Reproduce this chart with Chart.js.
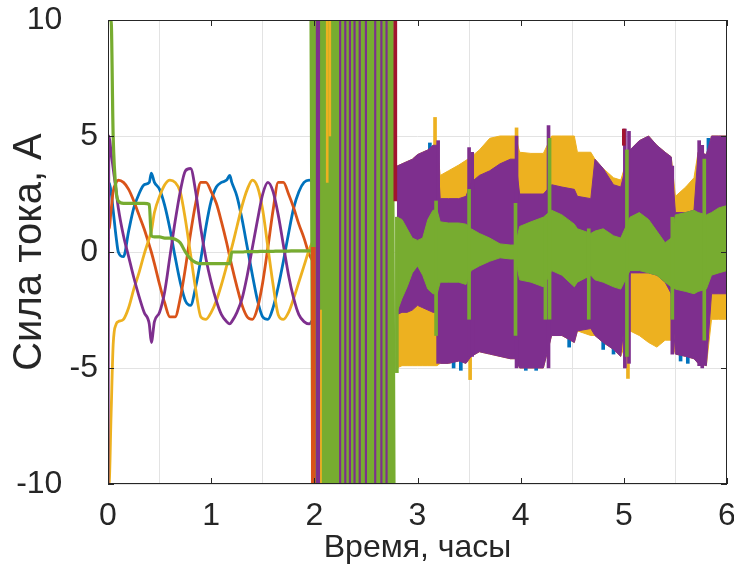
<!DOCTYPE html>
<html>
<head>
<meta charset="utf-8">
<script src="https://cdn.jsdelivr.net/npm/chart.js@4.4.1/dist/chart.umd.min.js"></script>
<style>
  html, body { margin: 0; padding: 0; background: #fff; }
</style>
</head>
<body>
<canvas id="currentChart" width="734" height="572"></canvas>
<script>
// MATLAB default colour order
const BLUE = '#0072BD', ORANGE = '#D95319', YELLOW = '#EDB120',
      PURPLE = '#7E2F8E', GREEN = '#77AC30', DARKRED = '#A2142F';

const xTicks = [0, 1, 2, 3, 4, 5, 6];
const yTicks = [-10, -5, 0, 5, 10];

// --- 0..2 h : smooth part of the signals ---
const smoothT = [0, 0.01, 0.03, 0.05, 0.08, 0.1, 0.15, 0.2, 0.25, 0.3, 0.35, 0.4,
  0.42, 0.45, 0.5, 0.55, 0.6, 0.65, 0.7, 0.75, 0.8, 0.85, 0.9, 0.95,
  1.0, 1.05, 1.1, 1.15, 1.18, 1.2, 1.25, 1.3, 1.35, 1.4, 1.45, 1.5,
  1.55, 1.6, 1.65, 1.7, 1.75, 1.8, 1.85, 1.9, 1.95, 2.0];
const blueV = [3.0, 3.0, 2.6, 1.8, 0.6, 0.0, -0.2, 0.9, 1.9, 2.5, 2.9, 3.0,
  3.4, 3.0, 2.7, 2.0, 1.0, -0.2, -1.3, -2.1, -2.3, -1.5, -0.3, 1.1,
  2.2, 2.8, 3.0, 3.1, 3.3, 3.0, 2.4, 1.4, 0.2, -1.0, -2.1, -2.8,
  -2.9, -2.4, -1.5, -0.4, 0.8, 1.9, 2.6, 3.0, 3.1, 3.0];
const orangeV = [1.0, 1.0, 1.8, 2.6, 3.0, 3.1, 3.0, 2.7, 2.2, 1.6, 1.0, 0.3,
  0.0, -0.5, -1.4, -2.2, -2.8, -2.8, -2.0, -0.7, 0.8, 2.1, 3.0, 3.0,
  2.6, 2.1, 1.3, 0.4, -0.2, -0.6, -1.5, -2.3, -2.8, -2.9, -2.4, -1.3,
  0.2, 1.8, 3.0, 3.0, 2.5, 1.9, 1.2, 0.6, -0.1, -0.5];
const yellowV = [-10, -10, -7, -4, -3.1, -3.0, -2.9, -2.4, -1.6, -0.9, -0.1, 0.6,
  0.9, 1.7, 2.4, 2.9, 3.1, 3.0, 2.6, 1.4, -0.1, -1.6, -2.8, -2.9,
  -2.6, -2.1, -1.4, -0.6, -0.1, 0.2, 1.1, 2.0, 2.7, 3.1, 2.8, 1.8,
  0.2, -1.4, -2.7, -2.9, -2.6, -2.0, -1.3, -0.6, 0.1, 0.6];
const purpleV = [-10, 5, 4.3, 3.6, 2.6, 1.9, 0.7, -0.2, -1.1, -1.9, -2.6, -3.1,
  -3.9, -3.0, -2.6, -1.7, -0.2, 1.3, 2.6, 3.5, 3.6, 2.6, 1.0, -0.3,
  -1.3, -2.1, -2.7, -3.0, -3.1, -3.0, -2.6, -2.0, -1.0, 0.2, 1.4, 2.5,
  3.0, 2.6, 1.6, 0.3, -1.0, -2.0, -2.7, -3.0, -3.1, -2.8];
const greenV = [10, 10, 10, 5, 2.6, 2.2, 2.1, 2.1, 2.1, 2.1, 2.1, 2.05,
  0.7, 0.65, 0.65, 0.6, 0.6, 0.55, 0.4, 0.0, -0.3, -0.45, -0.5, -0.5,
  -0.5, -0.5, -0.5, -0.5, -0.5, 0.0, 0.0, 0.0, 0.02, 0.02, 0.02, 0.03,
  0.03, 0.03, 0.04, 0.04, 0.04, 0.05, 0.05, 0.05, 0.05, 0.05];

// --- 2..2.8 h : saturated switching ---
const chaosT = [1.98, 2.00, 2.02, 2.04, 2.06, 2.08, 2.10, 2.12, 2.14, 2.16,
  2.18, 2.20, 2.22, 2.24, 2.26, 2.28, 2.30, 2.32, 2.34, 2.36,
  2.38, 2.40, 2.42, 2.44, 2.46, 2.48, 2.50, 2.52, 2.54, 2.56,
  2.58, 2.60, 2.62, 2.64, 2.66, 2.68, 2.70, 2.72, 2.74, 2.76];
const chaosGreen = [12, -12, 12, -12, 12, -12, 12, -12, 12, -12,
  12, -12, 12, -12, 12, -12, 12, -12, 12, -12,
  12, -12, 12, -12, 12, -12, 12, -12, 12, -12,
  12, -12, 12, -12, 12, -12, 12, -12, 12, -12];
const purpleStripeT = [2.025, 2.045, 2.25, 2.30, 2.345, 2.39, 2.44, 2.50, 2.59, 2.65, 2.70];
const purpleStripeLo = [-10, -10, -10, -10, -10, -10, -10, -10, -10, -10, -10];
const purpleStripeHi = [10, 10, 10, 10, 10, 10, 10, 10, 10, 10, 10];
const yellowStripeT = [2.06, 2.125, 2.15];
const yellowStripeLo = [-10, 3, 5];
const yellowStripeHi = [-2.5, 10, 10];
const orangeStripeT = [1.99];
const orangeStripeLo = [-10];
const orangeStripeHi = [0.2];
const darkRedT = [2.785, 5.00];
const darkRedLo = [2.2, 4.6];
const darkRedHi = [10, 5.3];

// --- 2.8..6 h : envelopes of the fast oscillation ---
const bandT = [2.80, 2.85, 2.90, 2.95, 3.00, 3.05, 3.10, 3.15, 3.19, 3.22, 3.30, 3.40,
  3.47, 3.52, 3.60, 3.70, 3.80, 3.90, 3.95, 3.99, 4.10, 4.22, 4.30, 4.40,
  4.52, 4.55, 4.68, 4.72, 4.80, 4.90, 4.97, 5.06, 5.15, 5.24, 5.32, 5.40,
  5.46, 5.50, 5.60, 5.68, 5.72, 5.80, 5.85, 5.92, 6.00];
const yellowTop = [3.7, 3.8, 3.9, 4.0, 4.2, 4.3, 4.4, 4.6, 4.6, 3.3, 3.5, 3.75,
  3.95, 4.1, 4.4, 4.9, 5.0, 5.0, 5.0, 4.3, 4.25, 4.25, 5.0, 5.0,
  5.0, 4.3, 4.3, 4.0, 3.6, 3.2, 3.1, 4.4, 4.8, 5.0, 4.6, 4.3,
  4.1, 2.4, 2.8, 3.2, 4.3, 4.2, 5.0, 5.0, 5.0];
const yellowBot = [-5.0, -4.9, -4.9, -4.9, -4.9, -4.9, -4.9, -4.9, -4.9, -4.8, -4.8, -4.7,
  -4.8, -4.5, -4.3, -4.4, -4.5, -4.6, -4.6, -5.0, -5.0, -5.0, -3.6, -3.6,
  -3.9, -3.4, -3.6, -3.6, -3.9, -4.2, -4.5, -3.4, -3.6, -3.9, -4.1, -3.8,
  -3.8, -4.4, -4.5, -4.6, -4.8, -4.9, -2.9, -2.9, -2.9];
const purpleTop = [3.7, 3.8, 3.9, 4.0, 4.2, 4.3, 4.4, 4.6, 4.6, 2.3, 2.3, 2.3,
  2.4, 3.0, 3.3, 3.5, 3.8, 4.0, 4.0, 2.5, 2.5, 2.5, 2.9, 2.8,
  2.7, 2.4, 2.3, 4.0, 3.6, 2.9, 2.8, 4.4, 4.8, 5.0, 4.6, 4.3,
  4.1, 1.7, 1.7, 1.8, 4.3, 4.2, 5.0, 5.0, 5.0];
const purpleBot = [-2.7, -2.6, -2.6, -2.5, -2.3, -2.4, -2.5, -2.6, -2.6, -4.8, -4.8, -4.7,
  -4.8, -4.5, -4.3, -4.4, -4.5, -4.6, -4.6, -5.0, -5.0, -5.0, -3.6, -3.6,
  -3.9, -3.4, -3.3, -3.6, -3.9, -4.2, -4.5, -0.9, -0.9, -0.9, -1.0, -1.3,
  -1.8, -4.4, -4.5, -4.6, -4.8, -4.9, -1.8, -1.8, -1.8];
const greenTop = [1.5, 1.4, 1.0, 0.6, 0.5, 0.6, 1.4, 1.8, 1.8, 1.3, 1.25, 1.25,
  1.2, 1.0, 0.8, 0.6, 0.35, 0.3, 0.3, 1.1, 1.3, 1.5, 1.8, 1.6,
  1.2, 1.0, 0.8, 0.9, 1.0, 0.7, 0.6, 1.5, 1.7, 1.4, 0.9, 0.4,
  0.6, 1.6, 1.7, 1.8, 1.7, 1.6, 1.7, 1.9, 2.0];
const greenBot = [-2.6, -2.0, -1.5, -0.9, -0.6, -1.0, -1.6, -1.8, -1.8, -1.3, -1.3, -1.3,
  -1.4, -0.8, -0.6, -0.4, -0.25, -0.3, -0.3, -1.2, -1.3, -1.5, -0.8, -1.0,
  -1.5, -1.3, -1.0, -1.2, -1.3, -1.5, -1.6, -0.8, -0.8, -0.9, -1.0, -1.3,
  -1.5, -1.6, -1.7, -1.8, -1.7, -1.6, -1.0, -0.9, -0.8];

// single spikes sticking out of the envelopes
const greenSpikeT = [2.80, 3.18, 3.50, 3.95, 4.24, 4.28, 4.66, 5.03, 5.47, 5.78];
const greenSpikeLo = [-5.2, -3.6, -2.9, -3.6, -2.9, -2.9, -2.9, -4.5, -2.9, -3.8];
const greenSpikeHi = [1.5, 2.2, 2.7, 2.1, 1.5, 4.9, 1.0, 4.4, 1.5, 4.0];
const purpleSpikeT = [3.20, 3.50, 3.53, 3.96, 4.27, 5.01, 5.05, 5.47, 5.73, 5.76];
const purpleSpikeLo = [-4.8, -4.5, -4.5, -5.0, -5.0, -5.0, -4.8, -4.4, -4.9, -5.0];
const purpleSpikeHi = [4.8, 4.5, 4.3, 5.0, 5.45, 5.3, 5.2, 3.7, 4.8, 4.6];
const yellowSpikeT = [3.17, 3.51, 3.96, 5.04];
const yellowSpikeLo = [2.0, -5.5, 2.0, -5.45];
const yellowSpikeHi = [5.8, -3.0, 5.35, -3.0];
const blueSpikeT = [3.12, 3.35, 3.42, 4.05, 4.15, 4.47, 4.80, 4.90, 5.55, 5.62, 5.82];
const blueSpikeLo = [3.5, -5.0, -5.1, -5.1, -5.1, -4.1, -4.2, -4.4, -4.7, -4.8, 4.0];
const blueSpikeHi = [4.7, -4.0, -4.0, -4.0, -4.0, -3.0, -3.0, -3.0, -3.5, -3.5, 4.9];

function toPoints(ts, vs) {
    return ts.map((t, i) => ({ x: t, y: vs[i] }));
}

function toRanges(ts, lo, hi) {
    return ts.map((t, i) => ({ x: t, y: [lo[i], hi[i]] }));
}

// smooth line, lower order = drawn on top
function lineSet(ts, vs, color, width, order) {
    return {
        type: 'line', data: toPoints(ts, vs), borderColor: color, borderWidth: width,
        pointRadius: 0, cubicInterpolationMode: 'monotone', fill: false, order: order
    };
}

// upper + lower envelope, filled between
function bandSets(ts, top, bot, color, order) {
    return [
        { type: 'line', data: toPoints(ts, top), borderColor: color, borderWidth: 1,
          backgroundColor: color, pointRadius: 0, fill: '+1', order: order },
        { type: 'line', data: toPoints(ts, bot), borderColor: color, borderWidth: 1,
          pointRadius: 0, fill: false, order: order }
    ];
}

// thin vertical strokes
function stripeSet(ts, lo, hi, color, thick, order) {
    return {
        type: 'bar', data: toRanges(ts, lo, hi), backgroundColor: color, borderWidth: 0,
        barThickness: thick, grouped: false, order: order
    };
}

const datasets = [
    stripeSet(purpleStripeT, purpleStripeLo, purpleStripeHi, PURPLE, 1.5, 1),
    stripeSet(yellowStripeT, yellowStripeLo, yellowStripeHi, YELLOW, 2, 1),
    stripeSet(orangeStripeT, orangeStripeLo, orangeStripeHi, ORANGE, 4, 1),
    stripeSet(darkRedT, darkRedLo, darkRedHi, DARKRED, 3, 1),
    { type: 'line', data: toPoints(chaosT, chaosGreen), borderColor: GREEN, borderWidth: 6,
      pointRadius: 0, fill: false, order: 2 },
    stripeSet(greenSpikeT, greenSpikeLo, greenSpikeHi, GREEN, 3, 3),
    ...bandSets(bandT, greenTop, greenBot, GREEN, 4),
    stripeSet(purpleSpikeT, purpleSpikeLo, purpleSpikeHi, PURPLE, 3, 5),
    ...bandSets(bandT, purpleTop, purpleBot, PURPLE, 6),
    stripeSet(blueSpikeT, blueSpikeLo, blueSpikeHi, BLUE, 3, 7),
    stripeSet(yellowSpikeT, yellowSpikeLo, yellowSpikeHi, YELLOW, 3, 8),
    ...bandSets(bandT, yellowTop, yellowBot, YELLOW, 9),
    lineSet(smoothT, greenV, GREEN, 3.2, 10),
    lineSet(smoothT, purpleV, PURPLE, 2.8, 11),
    lineSet(smoothT, yellowV, YELLOW, 2.8, 12),
    lineSet(smoothT, orangeV, ORANGE, 2.8, 13),
    lineSet(smoothT, blueV, BLUE, 2.8, 14)
];

// MATLAB style box with inward tick marks
const axesBox = {
    id: 'axesBox',
    afterDatasetsDraw(chart) {
        const { ctx, chartArea: a, scales } = chart;
        ctx.save();
        ctx.strokeStyle = '#262626';
        ctx.lineWidth = 1;
        ctx.strokeRect(a.left + 0.5, a.top + 0.5, a.right - a.left - 1, a.bottom - a.top - 1);
        ctx.beginPath();
        xTicks.forEach(v => {
            const x = Math.round(scales.x.getPixelForValue(v)) + 0.5;
            ctx.moveTo(x, a.bottom); ctx.lineTo(x, a.bottom - 6);
            ctx.moveTo(x, a.top); ctx.lineTo(x, a.top + 6);
        });
        yTicks.forEach(v => {
            const y = Math.round(scales.y.getPixelForValue(v)) + 0.5;
            ctx.moveTo(a.left, y); ctx.lineTo(a.left + 6, y);
            ctx.moveTo(a.right, y); ctx.lineTo(a.right - 6, y);
        });
        ctx.stroke();
        ctx.restore();
    }
};

const tickFont = { family: "'Liberation Sans', Arial, sans-serif", size: 32 };
const xTitleFont = { family: "'Liberation Sans', Arial, sans-serif", size: 32 };
const yTitleFont = { family: "'Liberation Sans', Arial, sans-serif", size: 40 };

new Chart(document.getElementById('currentChart'), {
    type: 'line',
    data: { datasets: datasets },
    options: {
        responsive: false,
        animation: false,
        devicePixelRatio: 1,
        events: [],
        layout: { padding: { top: 20, right: 7, bottom: 0, left: 0 } },
        elements: { point: { radius: 0 }, line: { tension: 0 } },
        scales: {
            x: {
                type: 'linear', min: 0, max: 6, offset: false,
                afterBuildTicks: s => { s.ticks = xTicks.map(v => ({ value: v })); },
                afterFit: s => { s.height = 88; s.paddingLeft = 0; s.paddingRight = 0; },
                grid: { color: '#e3e3e3', drawTicks: false },
                border: { display: false },
                ticks: { font: tickFont, color: '#262626', padding: 13, maxRotation: 0 },
                title: { display: true, text: 'Время, часы', font: xTitleFont, color: '#262626',
                         padding: { top: 0, bottom: 5 } }
            },
            y: {
                type: 'linear', min: -10, max: 10,
                afterBuildTicks: s => { s.ticks = yTicks.map(v => ({ value: v })); },
                afterFit: s => { s.width = 108; s.paddingTop = 0; s.paddingBottom = 0; },
                grid: { color: '#e3e3e3', drawTicks: false },
                border: { display: false },
                ticks: {
                    font: tickFont, color: '#262626', padding: 10,
                    // the ±10 labels sit further left in the original figure
                    callback: v => (Math.abs(v) === 10 ? v + '\u2007\u2007' : String(v))
                },
                title: { display: true, text: 'Сила тока, А', font: yTitleFont, color: '#262626',
                         padding: { top: 6, bottom: 0 } }
            }
        },
        plugins: {
            legend: { display: false },
            tooltip: { enabled: false }
        }
    },
    plugins: [axesBox]
});
</script>
</body>
</html>
